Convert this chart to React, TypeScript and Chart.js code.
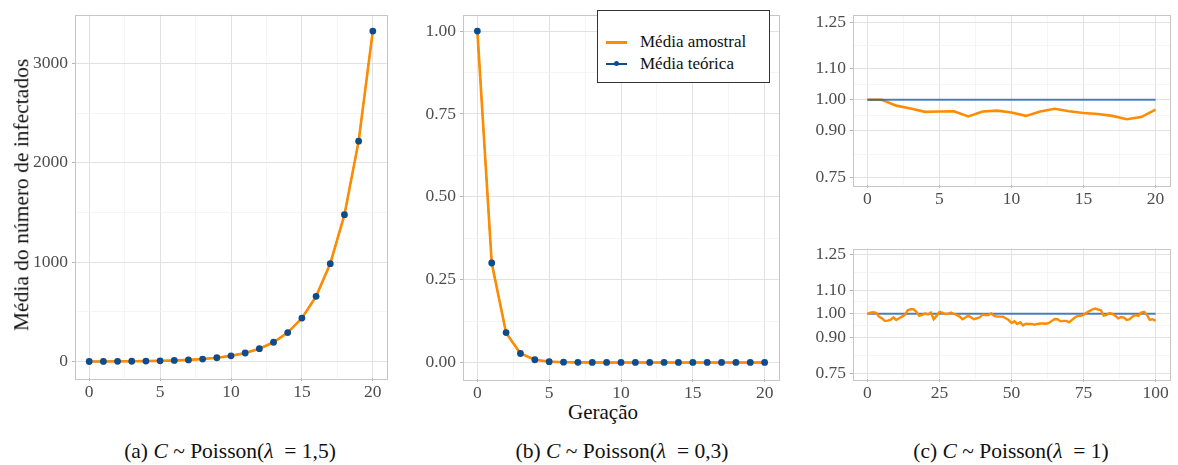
import React, { useEffect, useRef } from "react";
import { Chart, registerables } from "chart.js";

Chart.register(...registerables);

// ---------- data ----------
const generations20 = [0, 1, 2, 3, 4, 5, 6, 7, 8, 9, 10, 11, 12, 13, 14, 15, 16, 17, 18, 19, 20];

// (a) lambda = 1.5
const theoreticalA = [1, 1.5, 2.25, 3.38, 5.06, 7.59, 11.39, 17.09, 25.63, 38.44, 57.67, 86.5, 129.75, 194.62, 291.93, 437.89, 656.84, 985.26, 1477.89, 2216.84, 3325.26];
const sampleA = [1, 1.5, 2.26, 3.37, 5.05, 7.6, 11.4, 17.1, 25.6, 38.5, 57.7, 86.4, 129.6, 194.5, 292.1, 437.5, 656.2, 985.8, 1478.3, 2217.5, 3326.1];

// (b) lambda = 0.3
const theoreticalB = [1, 0.3, 0.09, 0.027, 0.0081, 0.00243, 0.00073, 0.00022, 0.00007, 0.00002, 0.00001, 0, 0, 0, 0, 0, 0, 0, 0, 0, 0];
const sampleB = [1, 0.3, 0.089, 0.027, 0.0082, 0.0024, 0.0007, 0.0002, 0.0001, 0, 0, 0, 0, 0, 0, 0, 0, 0, 0, 0, 0];

// (c) lambda = 1, 20 generations
const sampleC20 = [1.0, 1.0, 0.981, 0.972, 0.961, 0.962, 0.963, 0.946, 0.962, 0.965, 0.959, 0.948, 0.962, 0.971, 0.963, 0.957, 0.954, 0.948, 0.937, 0.944, 0.968];
const theoreticalC20 = [1, 1, 1, 1, 1, 1, 1, 1, 1, 1, 1, 1, 1, 1, 1, 1, 1, 1, 1, 1, 1];

// (c) lambda = 1, 100 generations
const generations100 = [0, 1, 2, 3, 4, 5, 6, 7, 8, 9, 10, 11, 12, 13, 14, 15, 16, 17, 18, 19, 20, 21, 22, 23, 24, 25, 26, 27, 28, 29, 30, 31, 32, 33, 34, 35, 36, 37, 38, 39, 40, 41, 42, 43, 44, 45, 46, 47, 48, 49, 50, 51, 52, 53, 54, 55, 56, 57, 58, 59, 60, 61, 62, 63, 64, 65, 66, 67, 68, 69, 70, 71, 72, 73, 74, 75, 76, 77, 78, 79, 80, 81, 82, 83, 84, 85, 86, 87, 88, 89, 90, 91, 92, 93, 94, 95, 96, 97, 98, 99, 100];
const sampleC100 = [
  1.0, 1.005, 1.006, 1.004, 0.988, 0.981, 0.97, 0.971, 0.974, 0.985,
  0.974, 0.981, 0.988, 0.995, 1.015, 1.019, 1.019, 1.008, 0.991, 0.995,
  1.001, 0.997, 1.005, 0.977, 0.991, 1.008, 1.005, 0.999, 1.0, 1.005,
  1.0, 0.995, 0.988, 0.977, 0.984, 0.992, 0.984, 0.977, 0.981, 0.985,
  0.997, 0.995, 0.995, 1.001, 0.991, 0.988, 0.988, 0.988, 0.981, 0.974,
  0.961, 0.968, 0.957, 0.964, 0.951, 0.958, 0.957, 0.957, 0.954, 0.957,
  0.959, 0.959, 0.958, 0.961, 0.97, 0.978, 0.977, 0.968, 0.97, 0.97,
  0.964, 0.974, 0.984, 0.991, 0.991, 0.995, 1.004, 1.011, 1.018, 1.022,
  1.018, 1.015, 0.992, 0.995, 1.003, 1.0, 0.992, 0.981, 0.986, 0.984,
  0.974, 0.977, 0.988, 0.995, 0.991, 1.005, 1.008, 0.995, 0.974, 0.977,
  0.97,
];
const theoLineX100 = [0, 100];
const theoLineY100 = [1, 1];

// tick definitions
const ticksA_y = [0, 1000, 2000, 3000];
const minorA_y = [500, 1500, 2500];
const ticks20_x = [0, 5, 10, 15, 20];
const minor20_x = [2.5, 7.5, 12.5, 17.5];
const ticksB_y = [0, 0.25, 0.5, 0.75, 1.0];
const minorB_y = [0.125, 0.375, 0.625, 0.875];
const ticksC_y = [0.75, 0.9, 1.0, 1.1, 1.25];
const minorC_y = [0.825, 0.95, 1.05, 1.175];
const ticks100_x = [0, 25, 50, 75, 100];
const minor100_x = [12.5, 37.5, 62.5, 87.5];

// ---------- styles ----------
const FONT = "'Liberation Serif', 'Times New Roman', serif";
const ORANGE = "#ff8c00";
const BLUE_PT = "#0e4c8c";
const BLUE_LINE = "rgba(30, 95, 170, 0.78)";
const GRID_MAJOR = "#e2e2e2";
const GRID_MINOR = "#f0f0f0";
const BORDER = "#c6c6c6";
const TICK_TEXT = "#4d4d4d";
const TICK_SIZE = 17.5;

const pts = (xs: number[], ys: number[]) => ys.map((y, i) => ({ x: xs[i], y }));

function axis(
  min: number,
  max: number,
  majors: number[],
  minors: number[],
  isX: boolean,
  fitSize: number,
  fmt: (v: number) => string
) {
  const all = [...majors, ...minors].sort((a, b) => a - b);
  const isMajor = (v: number) => majors.some((m) => Math.abs(m - v) < 1e-9);
  return {
    type: "linear",
    min,
    max,
    afterBuildTicks: (s: any) => {
      s.ticks = all.map((v) => ({ value: v }));
    },
    afterFit: (s: any) => {
      if (isX) s.height = fitSize;
      else s.width = fitSize;
    },
    grid: {
      color: (c: any) => (c.tick && isMajor(c.tick.value) ? GRID_MAJOR : GRID_MINOR),
      lineWidth: (c: any) => (c.tick && isMajor(c.tick.value) ? 1 : 0.7),
      tickColor: (c: any) => (c.tick && isMajor(c.tick.value) ? "#b5b5b5" : "rgba(0,0,0,0)"),
      tickLength: 3,
      drawTicks: true,
    },
    border: { display: false },
    ticks: {
      autoSkip: false,
      maxRotation: 0,
      minRotation: 0,
      padding: isX ? 1 : 4,
      color: TICK_TEXT,
      font: { family: FONT, size: TICK_SIZE },
      callback: (v: any) => (isMajor(Number(v)) ? fmt(Number(v)) : ""),
    },
  };
}

const borderPlugin = {
  id: "panelBorder",
  afterDraw(chart: any) {
    const { ctx, chartArea: a } = chart;
    ctx.save();
    ctx.strokeStyle = BORDER;
    ctx.lineWidth = 1;
    ctx.strokeRect(Math.round(a.left) + 0.5, Math.round(a.top) + 0.5, Math.round(a.right - a.left), Math.round(a.bottom - a.top));
    ctx.restore();
  },
};

type PanelProps = {
  left: number;
  top: number;
  width: number;
  height: number;
  build: () => any;
};

function Panel({ left, top, width, height, build }: PanelProps) {
  const ref = useRef<HTMLCanvasElement | null>(null);
  useEffect(() => {
    if (!ref.current) return;
    const chart = new Chart(ref.current, build());
    return () => chart.destroy();
  }, []);
  return (
    <canvas
      ref={ref}
      width={width}
      height={height}
      style={{ position: "absolute", left, top, width, height }}
    />
  );
}

const baseOptions = (padTop: number, padRight: number) => ({
  responsive: false,
  animation: false,
  devicePixelRatio: 1,
  layout: { padding: { top: padTop, right: padRight, left: 0, bottom: 0 } },
  plugins: { legend: { display: false }, tooltip: { enabled: false } },
  elements: { line: { tension: 0 } },
});

const buildA = () => ({
  type: "line",
  data: {
    datasets: [
      { label: "Média teórica", data: pts(generations20, theoreticalA), borderColor: BLUE_PT, borderWidth: 1.5, pointRadius: 0, order: 2 },
      { label: "Média amostral", data: pts(generations20, sampleA), borderColor: ORANGE, borderWidth: 2.6, pointRadius: 0, order: 1 },
      { label: "Média teórica (pontos)", data: pts(generations20, theoreticalA), showLine: false, pointRadius: 3.4, pointBackgroundColor: BLUE_PT, pointBorderWidth: 0, borderColor: BLUE_PT, order: 0 },
    ],
  },
  options: {
    ...baseOptions(10, 8),
    scales: {
      x: axis(-1, 21, ticks20_x, minor20_x, true, 22, (v) => String(v)),
      y: axis(-165.2, 3491.5, ticksA_y, minorA_y, false, 45, (v) => String(v)),
    },
  },
  plugins: [borderPlugin],
});

const buildB = () => ({
  type: "line",
  data: {
    datasets: [
      { label: "Média teórica", data: pts(generations20, theoreticalB), borderColor: BLUE_PT, borderWidth: 1.5, pointRadius: 0, order: 2 },
      { label: "Média amostral", data: pts(generations20, sampleB), borderColor: ORANGE, borderWidth: 2.6, pointRadius: 0, order: 1 },
      { label: "Média teórica (pontos)", data: pts(generations20, theoreticalB), showLine: false, pointRadius: 3.4, pointBackgroundColor: BLUE_PT, pointBorderWidth: 0, borderColor: BLUE_PT, order: 0 },
    ],
  },
  options: {
    ...baseOptions(10, 6),
    scales: {
      x: axis(-1, 21, ticks20_x, minor20_x, true, 21, (v) => String(v)),
      y: axis(-0.05, 1.05, ticksB_y, minorB_y, false, 48, (v) => v.toFixed(2)),
    },
  },
  plugins: [borderPlugin],
});

const buildC20 = () => ({
  type: "line",
  data: {
    datasets: [
      { label: "Média amostral", data: pts(generations20, sampleC20), borderColor: ORANGE, borderWidth: 2.6, pointRadius: 0, order: 1 },
      { label: "Média teórica", data: pts(generations20, theoreticalC20), borderColor: BLUE_LINE, borderWidth: 2, pointRadius: 0, order: 0 },
    ],
  },
  options: {
    ...baseOptions(10, 8),
    scales: {
      x: axis(-1, 21, ticks20_x, minor20_x, true, 25, (v) => String(v)),
      y: axis(0.725, 1.275, ticksC_y, minorC_y, false, 48, (v) => v.toFixed(2)),
    },
  },
  plugins: [borderPlugin],
});

const buildC100 = () => ({
  type: "line",
  data: {
    datasets: [
      { label: "Média amostral", data: pts(generations100, sampleC100), borderColor: ORANGE, borderWidth: 2.4, pointRadius: 0, order: 0 },
      { label: "Média teórica", data: pts(theoLineX100, theoLineY100), borderColor: BLUE_LINE, borderWidth: 2, pointRadius: 0, order: 1 },
    ],
  },
  options: {
    ...baseOptions(10, 8),
    scales: {
      x: axis(-5, 105, ticks100_x, minor100_x, true, 25, (v) => String(v)),
      y: axis(0.725, 1.275, ticksC_y, minorC_y, false, 48, (v) => v.toFixed(2)),
    },
  },
  plugins: [borderPlugin],
});

const textBase: React.CSSProperties = {
  position: "absolute",
  fontFamily: FONT,
  color: "#111",
  whiteSpace: "pre",
  lineHeight: 1,
};

function Caption({ cx, top, letter, value }: { cx: number; top: number; letter: string; value: string }) {
  return (
    <div style={{ ...textBase, left: cx, top, fontSize: 21.5, transform: "translateX(-50%)" }}>
      {`(${letter}) `}
      <i>C</i>
      {" ~ Poisson("}
      <i>λ</i>
      {`  = ${value})`}
    </div>
  );
}

export default function App() {
  return (
    <div style={{ position: "absolute", left: 0, top: 0, width: 1178, height: 465, background: "#fff", overflow: "hidden" }}>
      <Panel left={30} top={0} width={365} height={400} build={buildA} />
      <Panel left={415} top={0} width={370} height={400} build={buildB} />
      <Panel left={805} top={0} width={373} height={210} build={buildC20} />
      <Panel left={805} top={234} width={373} height={170} build={buildC100} />

      {/* y-axis title */}
      <div
        style={{
          ...textBase,
          left: 22,
          top: 195,
          fontSize: 21.5,
          transform: "translate(-50%, -50%) rotate(-90deg)",
        }}
      >
        Média do número de infectados
      </div>

      {/* x-axis title */}
      <div style={{ ...textBase, left: 603, top: 402, fontSize: 21, transform: "translateX(-50%)" }}>Geração</div>

      {/* legend */}
      <div
        style={{
          position: "absolute",
          left: 597,
          top: 10,
          width: 171,
          height: 71,
          border: "1.5px solid #333",
          background: "#fff",
        }}
      >
        <div style={{ position: "absolute", left: 8, top: 30, width: 21, height: 2.6, background: ORANGE }} />
        <div style={{ ...textBase, left: 42, top: 22, fontSize: 17 }}>Média amostral</div>
        <div style={{ position: "absolute", left: 8, top: 52, width: 21, height: 2, background: BLUE_PT }} />
        <div style={{ position: "absolute", left: 16, top: 50, width: 5, height: 5, borderRadius: "50%", background: BLUE_PT }} />
        <div style={{ ...textBase, left: 42, top: 44, fontSize: 17 }}>Média teórica</div>
      </div>

      <Caption cx={230} top={441} letter="a" value="1,5" />
      <Caption cx={622} top={441} letter="b" value="0,3" />
      <Caption cx={1011} top={441} letter="c" value="1" />
    </div>
  );
}
